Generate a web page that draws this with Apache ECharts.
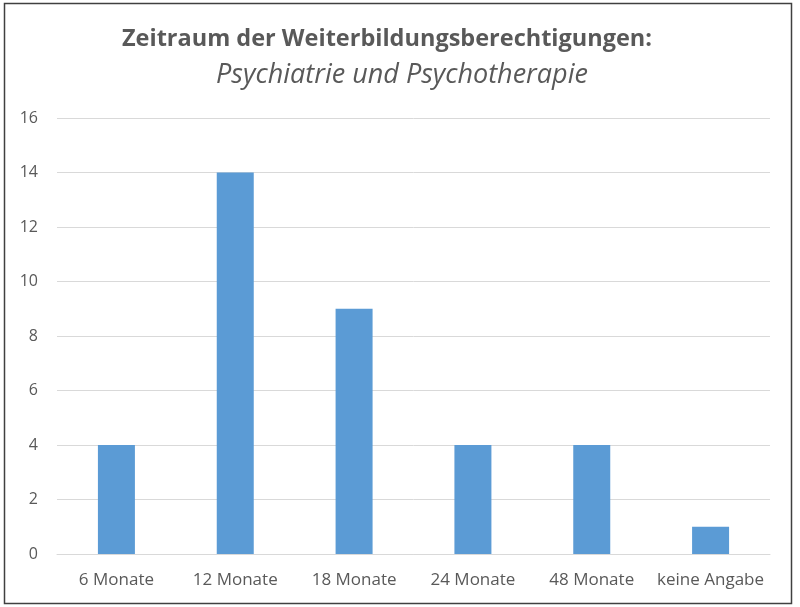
<!DOCTYPE html>
<html><head><meta charset="utf-8">
<script src="https://cdn.jsdelivr.net/npm/echarts@6/dist/echarts.min.js"></script>
<style>html,body{margin:0;padding:0;background:#fff}#c{width:800px;height:607px}</style>
</head><body><div id="c"></div>
<script>
const categories = ['6 Monate','12 Monate','18 Monate','24 Monate','48 Monate','keine Angabe'];
const values = [4, 14, 9, 4, 4, 1];
const titleText = 'Zeitraum der Weiterbildungsberechtigungen:';
const subtitleText = 'Psychiatrie und Psychotherapie';

const chart = echarts.init(document.getElementById('c'), null, {renderer:'canvas'});
chart.setOption({
  animation:false,
  backgroundColor:'#fff',
  title:[
    {text:titleText, left:382, top:22, textAlign:'center',
     textStyle:{fontFamily:'Open Sans', fontWeight:'bold', fontSize:23.5, color:'#595959'}},
    {text:subtitleText, left:397, top:57, textAlign:'center',
     textStyle:{fontFamily:'Open Sans', fontStyle:'italic', fontWeight:'normal', fontSize:27, color:'#595959'}}
  ],
  graphic:[{type:'rect', shape:{x:4.5,y:3.5,width:787,height:600},
    style:{fill:'none', stroke:'#404040', lineWidth:1.5}, silent:true}],
  grid:{left:57, right:30, top:118, bottom:53, containLabel:false},
  xAxis:{type:'category', data:categories,
    axisLine:{lineStyle:{color:'#d9d9d9', width:1}},
    axisTick:{show:false},
    axisLabel:{interval:0, fontFamily:'Open Sans', fontSize:17, color:'#595959', margin:18}},
  yAxis:{type:'value', min:0, max:16, interval:2,
    axisLine:{show:false}, axisTick:{show:false},
    splitLine:{lineStyle:{color:'#d9d9d9', width:1}},
    axisLabel:{fontFamily:'Open Sans', fontSize:16, color:'#595959', margin:19}},
  series:[{type:'bar', data:values, barWidth:37, itemStyle:{color:'#5b9bd5'}}]
});
</script></body></html>
